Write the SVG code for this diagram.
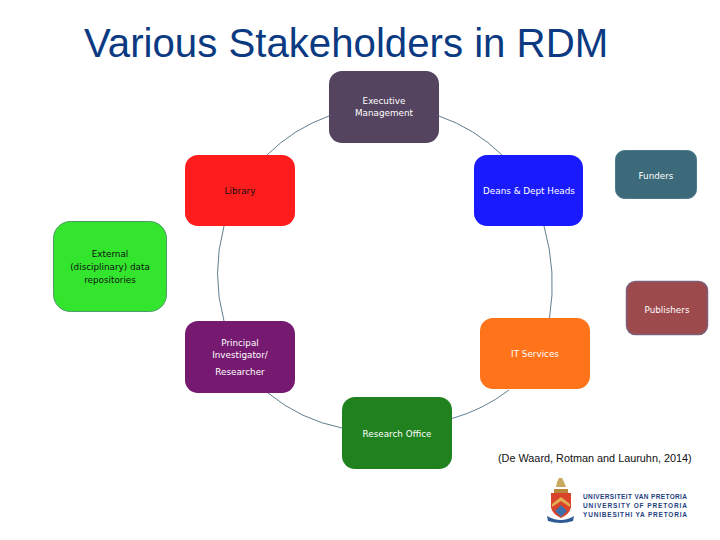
<svg xmlns="http://www.w3.org/2000/svg" width="720" height="540" viewBox="0 0 720 540">
<style>
text{font-family:"Liberation Sans",Arial,sans-serif}
.t{font-family:"DejaVu Sans",Verdana,sans-serif;font-size:8.800px;text-anchor:middle;fill:#fff}
.k{fill:#111}
.c{fill:none;stroke:#5f7f92;stroke-width:1}
.u{font-family:"Liberation Sans",Arial,sans-serif;font-size:6.500px;font-weight:bold;fill:#1f3f80}
</style>
<rect width="720" height="540" fill="#fff"/>
<text id="title" x="84" y="57" font-size="40.200" fill="#0b3a82">Various Stakeholders in RDM</text>
<g id="connectors">
<path class="c" d="M329 116A168 168 0 0 0 267 155"/>
<path class="c" d="M439 116A168 168 0 0 1 502 155"/>
<path class="c" d="M224 226Q211 274 224 321"/>
<path class="c" d="M544 226Q557 272 549.500 318"/>
<path class="c" d="M268 393A168 168 0 0 0 342 428"/>
<path class="c" d="M452 418.500A168 168 0 0 0 509 390"/>
</g>
<g id="executive"><rect x="329" y="71" width="110" height="72" rx="13" fill="#54445f"/><text class="t" x="384" y="104">Executive</text><text class="t" x="384" y="116">Management</text></g>
<g id="library"><rect x="185" y="155" width="110" height="71" rx="13" fill="#fe1c1c"/><text class="t k" x="240" y="194">Library</text></g>
<g id="deans"><rect x="474" y="155" width="109" height="71" rx="13" fill="#1a1aff"/><text class="t" x="529" y="194">Deans &amp; Dept Heads</text></g>
<g id="funders"><rect x="615.500" y="150.500" width="81" height="48" rx="9" fill="#3c6a7a" stroke="#4a7a8c"/><text class="t" x="656" y="179">Funders</text></g>
<g id="external"><rect x="53.500" y="221.500" width="113" height="90" rx="17" fill="#33e52d" stroke="#4f9a6a"/><text class="t k" x="110" y="257">External</text><text class="t k" x="110" y="270">(disciplinary) data</text><text class="t k" x="110" y="283">repositories</text></g>
<g id="publishers"><rect x="626.500" y="281.500" width="81" height="53" rx="9" fill="#9c4a4c" stroke="#7d5f78" stroke-width="1.500"/><text class="t" x="667" y="313">Publishers</text></g>
<g id="pi"><rect x="185" y="321" width="110" height="72" rx="13" fill="#751a70"/><text class="t" x="240" y="346">Principal</text><text class="t" x="240" y="358">Investigator/</text><text class="t" x="240" y="375">Researcher</text></g>
<g id="it"><rect x="480" y="318" width="110" height="71" rx="13" fill="#ff741a"/><text class="t" x="535" y="357">IT Services</text></g>
<g id="research"><rect x="342" y="397" width="110" height="72" rx="13" fill="#1f821f"/><text class="t" x="397" y="437">Research Office</text></g>
<text id="citation" x="498" y="462" font-size="10.850" fill="#111">(De Waard, Rotman and Lauruhn, 2014)</text>
<g id="logo">
<path d="M556 487l1-5l2-4h3l2 4l2 5z" fill="#c9a860"/>
<path d="M554 489h14v4h-14z" fill="#b8863a"/>
<path d="M551 493h20v14q-1 7-10 11q-9-4-10-11z" fill="#d8432a"/>
<path d="M552 504l9-7l9 7v3l-9-6l-9 6z" fill="#e0b050"/>
<path d="M555 511l6-6l6 6l-6 6z" fill="#3f6fa8"/>
<path d="M547 516q14 8 27 0l-1 5q-12 4-25 0z" fill="#2f5a96"/>
<text class="u" x="583" y="499" textLength="104" lengthAdjust="spacing">UNIVERSITEIT VAN PRETORIA</text>
<text class="u" x="583" y="508" textLength="104" lengthAdjust="spacing">UNIVERSITY OF PRETORIA</text>
<text class="u" x="583" y="517" textLength="104" lengthAdjust="spacing">YUNIBESITHI YA PRETORIA</text>
</g>
</svg>
